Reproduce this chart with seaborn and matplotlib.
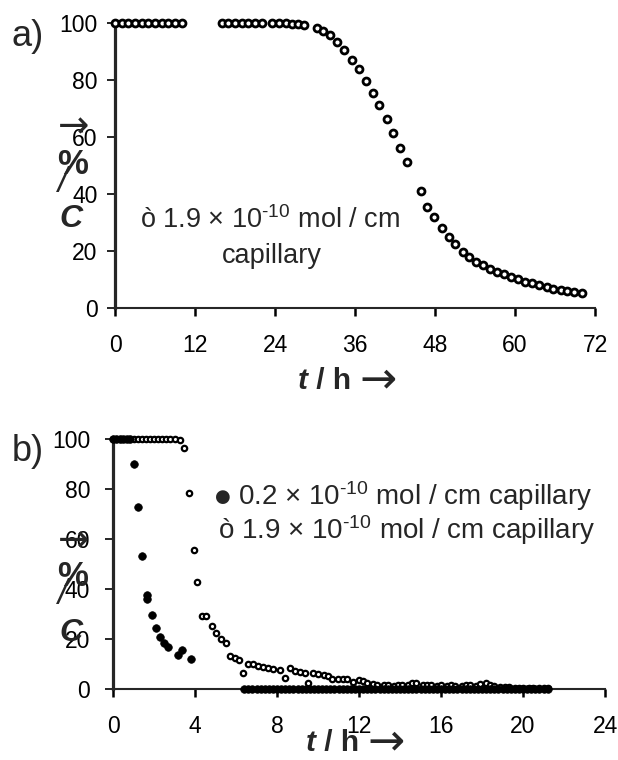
import matplotlib
matplotlib.use("Agg")
import matplotlib.pyplot as plt
import pandas as pd
import seaborn as sns

sns.set_style("ticks")
plt.rcParams["font.family"] = ["Liberation Sans", "DejaVu Sans"]
plt.rcParams["mathtext.fontset"] = "custom"
plt.rcParams["mathtext.rm"] = "Liberation Sans"
plt.rcParams["mathtext.it"] = "Liberation Sans:italic"
plt.rcParams["mathtext.bf"] = "Liberation Sans:bold"

# ---- a) 1.9e-10 mol / cm capillary, long run (hours, % remaining) ----
t_a = [0, 1, 2, 3, 4, 5, 6, 7, 8, 9, 10,
       16, 17, 18, 19, 20, 21, 22,
       23.6, 24.6, 25.6, 26.6, 27.5, 28.3,
       30.3, 31.2, 32.2, 33.3, 34.4, 35.6, 36.6, 37.7, 38.7, 39.6,
       40.8, 41.7, 42.7, 43.8, 45.9, 46.8, 47.9, 49.0, 50.1, 51.0,
       52.2, 53.1, 54.1, 55.2, 56.3, 57.3, 58.4, 59.4, 60.5, 61.5,
       62.5, 63.6, 64.8, 65.7, 66.9, 67.8, 68.9, 70.0]
c_a = [100, 100, 100, 100, 100, 100, 100, 100, 100, 100, 100,
       100, 100, 100, 100, 100, 100, 100,
       100, 100, 100, 99.8, 99.5, 99.2,
       98.2, 97.2, 95.8, 93.3, 90.5, 87.0, 83.9, 79.6, 75.4, 71.2,
       66.3, 61.4, 56.1, 51.2, 41.1, 35.4, 31.9, 28.0, 25.0, 22.5,
       19.8, 17.8, 16.2, 15.1, 13.6, 12.7, 11.9, 11.0, 10.1, 9.2,
       8.7, 8.0, 7.3, 6.8, 6.3, 6.1, 5.7, 5.2]

# ---- b) 0.2e-10 mol / cm capillary (filled) ----
t_b_low = [0.0, 0.17, 0.33, 0.5, 0.67, 0.83,
           1.0, 1.24, 1.43, 1.65, 1.68, 1.89, 2.1, 2.29, 2.49, 2.7,
           3.16, 3.35, 3.79,
           6.4, 6.6, 6.8, 7.0, 7.2, 7.4, 7.6, 7.8, 8.0, 8.2, 8.4, 8.6,
           8.8, 9.0, 9.2, 9.4, 9.6, 9.8, 10.0, 10.2, 10.4, 10.6, 10.8,
           11.0, 11.2, 11.4, 11.6, 11.8, 12.0, 12.2, 12.4, 12.6, 12.8,
           13.0, 13.2, 13.4, 13.6, 13.8, 14.0, 14.2, 14.4, 14.6, 14.8,
           15.0, 15.2, 15.4, 15.6, 15.8, 16.0, 16.2, 16.4, 16.6, 16.8,
           17.0, 17.2, 17.4, 17.6, 17.8, 18.0, 18.2, 18.4, 18.6, 18.8,
           19.0, 19.2, 19.4, 19.6, 19.8, 20.0, 20.2, 20.4, 20.6, 20.8,
           21.0, 21.2]
c_b_low = [100, 100, 100, 100, 100, 100,
           90.0, 72.9, 53.3, 37.5, 36.0, 29.8, 24.3, 21.0, 18.6, 17.0,
           13.7, 15.7, 12.1,
           0, 0, 0, 0, 0, 0, 0, 0, 0, 0, 0, 0,
           0, 0, 0, 0, 0, 0, 0, 0, 0, 0, 0,
           0, 0, 0, 0, 0, 0, 0, 0, 0, 0,
           0, 0, 0, 0, 0, 0, 0, 0, 0, 0,
           0, 0, 0, 0, 0, 0, 0, 0, 0, 0,
           0, 0, 0, 0, 0, 0, 0, 0, 0, 0,
           0, 0, 0, 0, 0, 0, 0, 0, 0, 0,
           0, 0]

# ---- b) 1.9e-10 mol / cm capillary (open) ----
t_b_high = [0.0, 0.2, 0.4, 0.6, 0.8, 1.0, 1.2, 1.4, 1.6, 1.8, 2.0,
            2.2, 2.4, 2.6, 2.8, 3.0,
            3.27, 3.47, 3.69, 3.93, 4.12, 4.32, 4.54, 4.82, 5.03, 5.26,
            5.5, 5.71, 5.95, 6.16, 6.36, 6.6, 6.85, 7.09, 7.33, 7.58,
            7.82, 8.15, 8.4, 8.64, 8.88, 9.13, 9.37, 9.53, 9.78, 10.0,
            10.3, 10.5, 10.7, 10.98, 11.2, 11.4, 11.7, 12.0, 12.2, 12.4,
            12.7, 12.9, 13.2, 13.4, 13.7, 13.9, 14.1, 14.4, 14.6, 14.8,
            15.1, 15.3, 15.5, 15.8, 16.0, 16.3, 16.5, 16.7, 17.0, 17.2,
            17.4, 17.7, 17.9, 18.2, 18.4, 18.6, 18.9, 19.1, 19.3, 19.6,
            19.8, 20.0, 20.3, 20.5, 20.8, 21.0, 21.2]
c_b_high = [100, 100, 100, 100, 100, 100, 100, 100, 100, 100, 100,
            100, 100, 100, 100, 100,
            99.6, 96.5, 78.5, 55.6, 42.9, 29.2, 29.2, 25.3, 22.5, 19.9,
            18.3, 13.3, 12.5, 11.6, 6.5, 10.0, 9.9, 9.2, 8.7, 8.3,
            7.9, 7.6, 4.3, 8.3, 7.3, 6.7, 6.3, 2.5, 6.3, 6.0,
            5.6, 5.2, 4.0, 4.0, 4.0, 4.0, 2.7, 3.5, 3.4, 2.4,
            2.0, 1.8, 1.6, 1.5, 1.4, 1.6, 1.5, 1.7, 2.6, 2.3,
            1.8, 1.6, 1.5, 1.4, 1.6, 1.3, 1.5, 1.4, 1.2, 1.5,
            1.6, 1.4, 1.9, 2.6, 1.8, 1.2, 1.0, 0.8, 0.7, 0.6,
            0.5, 0.5, 0.4, 0.4, 0.3, 0.3, 0.3]

xticks_a = [0, 12, 24, 36, 48, 60, 72]
xticks_b = [0, 4, 8, 12, 16, 20, 24]
yticks = [0, 20, 40, 60, 80, 100]

df_a = pd.DataFrame({"t": t_a, "C": c_a})
df_low = pd.DataFrame({"t": t_b_low, "C": c_b_low})
df_high = pd.DataFrame({"t": t_b_high, "C": c_b_high})

W, H = 618, 760
fig = plt.figure(figsize=(W / 100, H / 100), dpi=100)
ax_a = fig.add_axes([115 / W, 1 - 308 / H, 480 / W, 285 / H])
ax_b = fig.add_axes([113 / W, 1 - 689 / H, 492 / W, 250 / H])


def ftext(x, y, s, **kw):
    return fig.text(x / W, 1 - y / H, s, **kw)


TICK_FS = 16.5
NOTE_FS = 19.5
KEY_FS = 20
ARROW = ["DejaVu Sans"]
SUP = "$^{\\text{-10}}$"

sns.scatterplot(data=df_a, x="t", y="C", ax=ax_a, marker="o", s=25,
                color="white", edgecolor="black", linewidth=2.0,
                legend=False, clip_on=False, zorder=5)

sns.scatterplot(data=df_high, x="t", y="C", ax=ax_b, marker="o", s=15,
                color="white", edgecolor="black", linewidth=1.6,
                legend=False, clip_on=False, zorder=5)
sns.scatterplot(data=df_low, x="t", y="C", ax=ax_b, marker="o", s=30,
                color="black", edgecolor="black", linewidth=0.5,
                legend=False, clip_on=False, zorder=6)

for ax, xt, xmax, ypad in ((ax_a, xticks_a, 72, 6.5), (ax_b, xticks_b, 24, 10.5)):
    ax.set_xlim(0, xmax)
    ax.set_ylim(0, 100)
    ax.set_xticks(xt)
    ax.set_yticks(yticks)
    ax.set_xlabel("")
    ax.set_ylabel("")
    sns.despine(ax=ax)
    ax.spines["left"].set_linewidth(2.3)
    ax.spines["bottom"].set_linewidth(1.5)
    ax.tick_params(axis="x", direction="out", length=6, width=1.8,
                   pad=13, labelsize=TICK_FS, colors="black")
    ax.tick_params(axis="y", direction="out", length=6, width=1.2,
                   pad=ypad, labelsize=TICK_FS, colors="black")
    ax.patch.set_alpha(0)

# panel letters
ftext(12, 37, "a)", fontsize=26, va="center", ha="left")
ftext(12, 452, "b)", fontsize=26, va="center", ha="left")

# x-axis titles: bold italic t, then "/ h" and an arrow
for (x, y) in ((298, 381), (306, 743)):
    tt = ftext(x, y, "t", fontsize=21.5, fontweight="bold", fontstyle="italic",
               va="center", ha="left")
    sl = plt.annotate(" / h ", xy=(1, 0), xycoords=tt, fontsize=21.5,
                      fontweight="bold", va="bottom", ha="left",
                      annotation_clip=False)
    plt.annotate("\u2192", xy=(1, 0.5), xycoords=sl, xytext=(0, 0.5),
                 textcoords="offset points", fontsize=32, family=ARROW,
                 va="center", ha="left", annotation_clip=False)

# stacked y-axis title glyphs
for (ay, py, sy, cy) in ((127, 165, 182, 219), (541, 577, 594, 633)):
    ftext(74, ay, "\u2192", fontsize=27, family=ARROW, ha="center", va="center")
    ftext(73, py, "%", fontsize=25, fontweight="bold", ha="center", va="center")
    ftext(63, sy, "/", fontsize=25, fontstyle="italic", ha="center", va="center")
    ftext(71, cy, "C", fontsize=23, fontweight="bold", fontstyle="italic",
          ha="center", va="center")

# panel a annotation
ftext(140, 228, "\u00f2 1.9 \u00d7 10" + SUP + " mol / cm", fontsize=NOTE_FS,
      ha="left", va="baseline")
ftext(222, 263, "capillary", fontsize=NOTE_FS, ha="left", va="baseline")

# panel b key
ftext(223, 497, "\u25cf", fontsize=13, ha="center", va="center", family=ARROW)
ftext(238, 505, "0.2 \u00d7 10" + SUP + " mol / cm capillary", fontsize=KEY_FS,
      ha="left", va="baseline")
ftext(218, 539, "\u00f2 1.9 \u00d7 10" + SUP + " mol / cm capillary",
      fontsize=KEY_FS, ha="left", va="baseline")

fig.savefig("out.png", dpi=100)
